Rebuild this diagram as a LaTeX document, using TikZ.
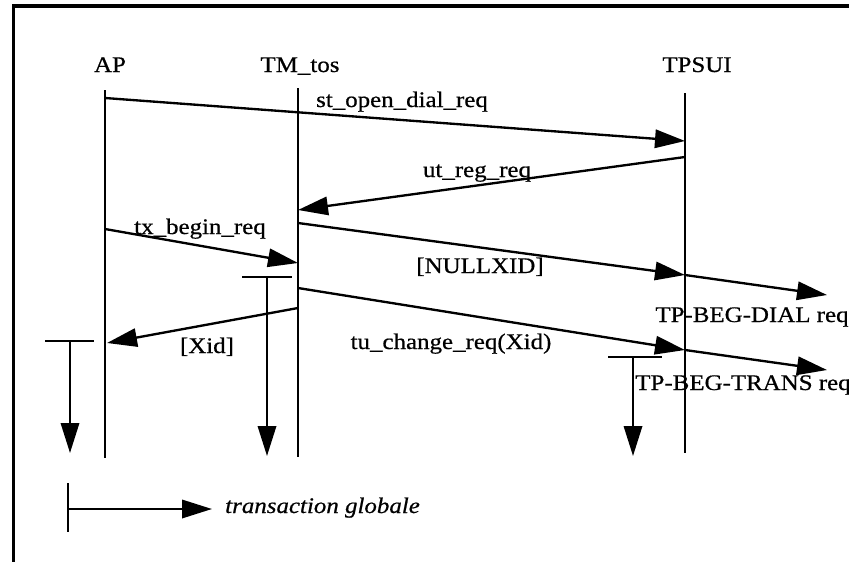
\documentclass[tikz,border=0pt]{standalone}
\usepackage{fontspec}
\setmainfont[FakeStretch=1.12, FakeBold=0.6]{Liberation Serif}
\usepackage{tikz}
\usetikzlibrary{arrows.meta}
\tikzstyle{frame} = [draw, line width=2.8pt]
\tikzstyle{lifeline} = [draw, line width=2pt]
\tikzstyle{line} = [draw, line width=2pt, -{Triangle[length=0.9cm, width=0.55cm]}]
\tikzstyle{label} = [inner sep=0pt, anchor=base, font=\fontsize{19}{22}\selectfont]

\begin{document}
\begin{tikzpicture}[x=0.03cm, y=-0.03cm]
	\useasboundingbox (0,0) rectangle (849,562);
	\path [frame] (849,6) -- (13.5,6) -- (13.5,562);
	
	% Place nodes
	\node [label] (AP)    at (110,72)  {AP};
	\node [label] (TM tos) at (300,72) {TM\_tos};
	\node [label] (TPSUI) at (697,72)  {TPSUI};
	
	\coordinate (AP top)       at (105,90);
	\coordinate (AP bottom)    at (105,458);
	\coordinate (TM top)       at (298,88);
	\coordinate (TM bottom)    at (298,457);
	\coordinate (TPSUI top)    at (685,93);
	\coordinate (TPSUI bottom) at (685,453);
	
	% message ends
	\coordinate (open start)   at (105,98);
	\coordinate (open end)     at (685,141);
	\coordinate (reg start)    at (685,157);
	\coordinate (reg end)      at (298,210);
	\coordinate (null start)   at (298,223);
	\coordinate (null end)     at (685,275);
	\coordinate (dial end)     at (827,295);
	\coordinate (begin start)  at (105,229);
	\coordinate (begin end)    at (298,263);
	\coordinate (change start) at (298,288);
	\coordinate (change end)   at (685,350);
	\coordinate (trans end)    at (827,370);
	\coordinate (xid start)    at (298,308);
	\coordinate (xid end)      at (107,343);
	
	% transaction bars
	\coordinate (TM bar left)     at (242,277);
	\coordinate (TM bar right)    at (292,277);
	\coordinate (TM bar mid)      at (267,277);
	\coordinate (TM bar end)      at (267,456);
	\coordinate (AP bar left)     at (45,341);
	\coordinate (AP bar right)    at (94,341);
	\coordinate (AP bar mid)      at (70,341);
	\coordinate (AP bar end)      at (70,453);
	\coordinate (TPSUI bar left)  at (608,357);
	\coordinate (TPSUI bar right) at (662,357);
	\coordinate (TPSUI bar mid)   at (633,357);
	\coordinate (TPSUI bar end)   at (633,456);
	\coordinate (key top)    at (68,483);
	\coordinate (key bottom) at (68,532);
	\coordinate (key start)  at (68,509);
	\coordinate (key end)    at (212,509);
	
	% Message labels
	\node [label] (open label)   at (402,107) {st\_open\_dial\_req};
	\node [label] (reg label)    at (477,177) {ut\_reg\_req};
	\node [label] (begin label)  at (200,234) {tx\_begin\_req};
	\node [label] (null label)   at (480,273) {[NULLXID]};
	\node [label] (dial label)   at (752,322) {TP-BEG-DIAL req};
	\node [label] (change label) at (451,349) {tu\_change\_req(Xid)};
	\node [label] (xid label)    at (207,353) {[Xid]};
	\node [label] (trans label)  at (743,390) {TP-BEG-TRANS req};
	\node [label, anchor=base west] (key label) at (225,513) {\itshape transaction globale};
	
	%Draw edges
	\path [lifeline] (AP top)    -- (AP bottom);
	\path [lifeline] (TM top)    -- (TM bottom);
	\path [lifeline] (TPSUI top) -- (TPSUI bottom);
	\path [line] (open start)   -- (open end);
	\path [line] (reg start)    -- (reg end);
	\path [line] (null start)   -- (null end);
	\path [line] (null end)     -- (dial end);
	\path [line] (begin start)  -- (begin end);
	\path [line] (change start) -- (change end);
	\path [line] (change end)   -- (trans end);
	\path [line] (xid start)    -- (xid end);
	
	\path [lifeline] (TM bar left)    -- (TM bar right);
	\path [line]     (TM bar mid)     -- (TM bar end);
	\path [lifeline] (AP bar left)    -- (AP bar right);
	\path [line]     (AP bar mid)     -- (AP bar end);
	\path [lifeline] (TPSUI bar left) -- (TPSUI bar right);
	\path [line]     (TPSUI bar mid)  -- (TPSUI bar end);
	\path [lifeline] (key top)        -- (key bottom);
	\path [line]     (key start)      -- (key end);
	
\end{tikzpicture}
\end{document}
